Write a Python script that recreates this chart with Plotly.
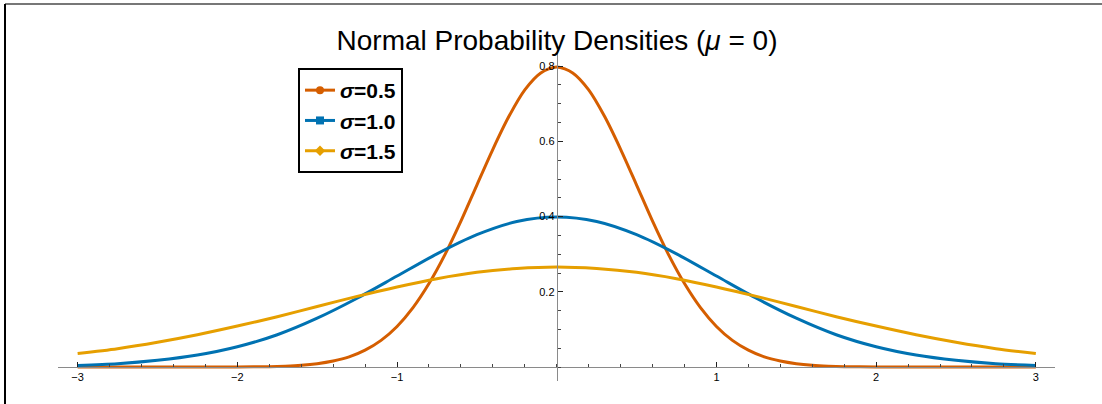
import plotly.graph_objects as go

# x positions (read every 0.25) for the wider curves
x_vals = [-3.0, -2.75, -2.5, -2.25, -2.0, -1.75, -1.5, -1.25, -1.0, -0.75, -0.5, -0.25, 0.0,
          0.25, 0.5, 0.75, 1.0, 1.25, 1.5, 1.75, 2.0, 2.25, 2.5, 2.75, 3.0]
# x positions (read every 0.1 near the peak) for the narrow curve
x_narrow = [-3.0, -2.5, -2.0, -1.9, -1.8, -1.7, -1.6, -1.5, -1.4, -1.3, -1.2, -1.1, -1.0,
            -0.9, -0.8, -0.7, -0.6, -0.5, -0.4, -0.3, -0.2, -0.1, 0.0,
            0.1, 0.2, 0.3, 0.4, 0.5, 0.6, 0.7, 0.8, 0.9, 1.0,
            1.1, 1.2, 1.3, 1.4, 1.5, 1.6, 1.7, 1.8, 1.9, 2.0, 2.5, 3.0]

sigma_05 = [0.0, 0.0, 0.0003, 0.0006, 0.0012, 0.0025, 0.0048, 0.009, 0.016, 0.027, 0.045, 0.071, 0.108,
            0.158, 0.222, 0.299, 0.388, 0.484, 0.579, 0.666, 0.737, 0.782, 0.798,
            0.782, 0.737, 0.666, 0.579, 0.484, 0.388, 0.299, 0.222, 0.158, 0.108,
            0.071, 0.045, 0.027, 0.016, 0.009, 0.0048, 0.0025, 0.0012, 0.0006, 0.0003, 0.0, 0.0]
sigma_10 = [0.0044, 0.009, 0.018, 0.032, 0.054, 0.086, 0.130, 0.183, 0.242, 0.301, 0.352, 0.387, 0.399,
            0.387, 0.352, 0.301, 0.242, 0.183, 0.130, 0.086, 0.054, 0.032, 0.018, 0.009, 0.0044]
sigma_15 = [0.036, 0.049, 0.066, 0.086, 0.109, 0.134, 0.161, 0.188, 0.213, 0.235, 0.252, 0.262, 0.266,
            0.262, 0.252, 0.235, 0.213, 0.188, 0.161, 0.134, 0.109, 0.086, 0.066, 0.049, 0.036]

series_names = ["<i>σ</i>=0.5", "<i>σ</i>=1.0", "<i>σ</i>=1.5"]
series_x = [x_narrow, x_vals, x_vals]
series_values = [sigma_05, sigma_10, sigma_15]
colors = ["#D55E00", "#0072B2", "#E69F00"]
symbols = ["circle", "square", "diamond"]

x_ticks = [-3, -2, -1, 1, 2, 3]
x_tick_labels = ["−3", "−2", "−1", "1", "2", "3"]
y_ticks = [0.2, 0.4, 0.6, 0.8]
y_tick_labels = ["0.2", "0.4", "0.6", "0.8"]

XMIN, XMAX = -3.123, 3.12
YMIN, YMAX = -0.037, 0.843

fig = go.Figure()
for xs, vals, c in zip(series_x, series_values, colors):
    fig.add_trace(go.Scatter(x=xs, y=vals, mode="lines", line=dict(color=c, width=3, shape="spline", smoothing=0.8),
                             showlegend=False, hoverinfo="skip", cliponaxis=False))
for name, c, s in zip(series_names, colors, symbols):
    fig.add_trace(go.Scatter(x=[None], y=[None], mode="lines+markers", name=name,
                             line=dict(color=c, width=3), marker=dict(color=c, symbol=s, size=8)))

font = "Liberation Sans, Arial, Helvetica, sans-serif"

fig.update_layout(
    width=1102, height=404,
    margin=dict(l=58, r=47, t=50, b=23),
    paper_bgcolor="white", plot_bgcolor="white",
    font=dict(family=font, color="black"),
    title=dict(text="Normal Probability Densities (<i>μ</i> = 0)", font=dict(size=28, family=font, color="black"),
               x=(557 - 58) / 997, xref="paper", xanchor="center",
               y=1 - 40 / 404, yref="container", yanchor="middle"),
    xaxis=dict(range=[XMIN, XMAX], showgrid=False, zeroline=False, showline=True, linecolor="#8a8a8a",
               linewidth=1, anchor="free", position=(0 - YMIN) / (YMAX - YMIN), side="bottom",
               ticks="inside", ticklen=5, tickwidth=1, tickcolor="#222",
               tickvals=x_ticks, ticktext=x_tick_labels, tickfont=dict(size=11, family=font, color="black"),
               minor=dict(dtick=0.2, tick0=0, ticks="inside", ticklen=3, tickcolor="#444", showgrid=False)),
    yaxis=dict(range=[YMIN, YMAX], showgrid=False, zeroline=False, showline=True, linecolor="#8a8a8a",
               linewidth=1, anchor="free", position=(0 - XMIN) / (XMAX - XMIN), side="left",
               ticks="inside", ticklen=5, tickwidth=1, tickcolor="#222",
               tickvals=y_ticks, ticktext=y_tick_labels, tickfont=dict(size=11, family=font, color="black"),
               minor=dict(dtick=0.05, tick0=0, ticks="inside", ticklen=3, tickcolor="#444", showgrid=False)),
    legend=dict(x=(298 - 58) / 997, y=(381 - 68) / 331, xanchor="left", yanchor="top",
                bgcolor="white", bordercolor="black", borderwidth=2,
                font=dict(size=21, family=font, color="black", weight="bold"),
                itemwidth=30, tracegroupgap=0),
    shapes=[
        dict(type="line", xref="paper", yref="paper", x0=(5 - 58) / 997, x1=(1102 - 58) / 997,
             y0=(381 - 4) / 331, y1=(381 - 4) / 331, line=dict(color="#777", width=2)),
        dict(type="line", xref="paper", yref="paper", x0=(5 - 58) / 997, x1=(5 - 58) / 997,
             y0=(381 - 4) / 331, y1=(381 - 404) / 331, line=dict(color="black", width=2)),
    ],
)

fig.write_html("out.html")
